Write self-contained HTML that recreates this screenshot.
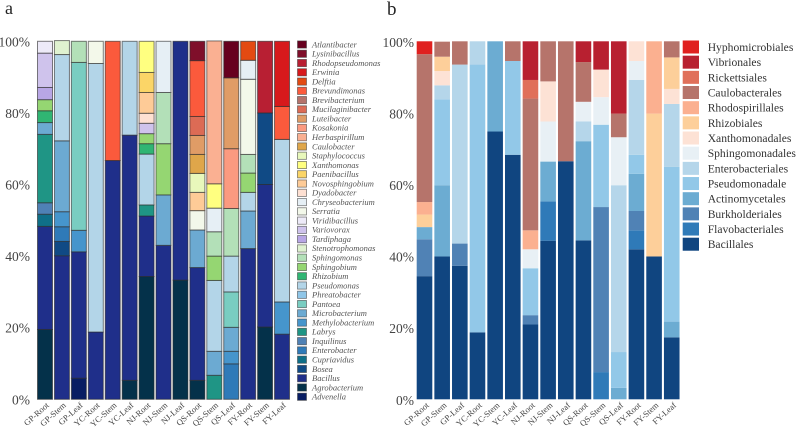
<!DOCTYPE html>
<html lang="en">
<head>
<meta charset="utf-8">
<title>Stacked bar charts of bacterial composition</title>
<style>
html,body{margin:0;padding:0;background:#fff;width:798px;height:431px;overflow:hidden}
svg{display:block;font-family:"Liberation Serif",serif}
</style>
</head>
<body>
<svg id="figure" width="798" height="431" viewBox="0 0 798 431" xmlns="http://www.w3.org/2000/svg">
  <text x="5" y="14" font-size="18" fill="#222">a</text>
  <text x="387" y="15" font-size="19" fill="#222">b</text>
  <g id="panel-a"></g>
  <g id="panel-b"></g>
</svg>
<script>
const samples = ['GP-Root','GP-Stem','GP-Leaf','YC-Root','YC-Stem','YC-Leaf','NJ-Root','NJ-Stem','NJ-Leaf','QS-Root','QS-Stem','QS-Leaf','FY-Root','FY-Stem','FY-Leaf'];
const yTicks = [0,20,40,60,80,100];

const genera = ['Atlantibacter','Lysinibacillus','Rhodopseudomonas','Erwinia','Delftia','Brevundimonas','Brevibacterium','Mucilaginibacter','Luteibacter','Kosakonia','Herbaspirillum','Caulobacter','Staphylococcus','Xanthomonas','Paenibacillus','Novosphingobium','Dyadobacter','Chryseobacterium','Serratia','Viridibacillus','Variovorax','Tardiphaga','Stenotrophomonas','Sphingomonas','Sphingobium','Rhizobium','Pseudomonas','Phreatobacter','Pantoea','Microbacterium','Methylobacterium','Labrys','Inquilinus','Enterobacter','Cupriavidus','Bosea','Bacillus','Agrobacterium','Advenella'];
const genusColors = ['#67001f','#7f0f2a','#b81f33','#d7191c','#e34a12','#fb5a3c','#b5736b','#dc6b55','#e09c66','#fb9a80','#fab092','#dfa64a','#e8f8bb','#ffff80','#fbd567','#fecb97','#fee0d2','#e6eff5','#f3f8ea','#edeaf8','#cfc3ec','#b8a6e5','#dff2d0','#b3e0b8','#95d672','#30b573','#b3d5e8','#8fc6e8','#79cdc1','#6caad2','#4695cc','#1f9585','#4f81b5','#2f7ab8','#0f6f88','#104a85','#1f2f8a','#04314a','#081d63'];

const gpRootA = {Agrobacterium:19.5,Bacillus:28.8,Cupriavidus:3.4,Inquilinus:3.2,Labrys:19.1,Microbacterium:3.3,Rhizobium:3.3,Sphingobium:3.1,Tardiphaga:3.4,Variovorax:9.6,Viridibacillus:3.3};
const gpStemA = {Bacillus:40.1,Bosea:4,Enterobacter:4.1,Methylobacterium:4.2,Microbacterium:19.8,Pseudomonas:24.1,Stenotrophomonas:3.9};
const gpLeafA = {Advenella:5.9,Bacillus:35.3,Methylobacterium:6,Pantoea:46.9,Sphingomonas:5.9};
const ycRootA = {Bacillus:18.8,Pseudomonas:75,Serratia:6.2};
const ycStemA = {Bacillus:66.7,Brevundimonas:33.3};
const ycLeafA = {Agrobacterium:5.3,Bacillus:68.5,Pseudomonas:26.2};
const njRootA = {Agrobacterium:34.3,Bacillus:16.9,Labrys:3.1,Pseudomonas:14.2,Rhizobium:2.9,Sphingobium:2.8,Variovorax:2.9,Dyadobacter:2.8,Novosphingobium:5.8,Paenibacillus:5.6,Xanthomonas:8.7};
const njStemA = {Bacillus:43,Microbacterium:14.1,Sphingobium:14.3,Sphingomonas:14.3,Chryseobacterium:14.3};
const njLeafA = {Agrobacterium:33.3,Bacillus:66.7};
const qsRootA = {Agrobacterium:5.3,Bacillus:31.5,Microbacterium:10.5,Serratia:5.4,Novosphingobium:5.1,Staphylococcus:5.3,Caulobacter:5.3,Luteibacter:5.3,Mucilaginibacter:5.3,Brevundimonas:15.6,Lysinibacillus:5.4};
const qsStemA = {Labrys:6.7,Microbacterium:6.7,Pseudomonas:19.8,Sphingobium:6.8,Sphingomonas:6.8,Chryseobacterium:6.6,Xanthomonas:6.8,Herbaspirillum:39.9};
const qsLeafA = {Enterobacter:9.9,Methylobacterium:3.5,Microbacterium:6.7,Pantoea:9.9,Pseudomonas:10,Sphingomonas:13.3,Kosakonia:16.7,Luteibacter:19.8,Atlantibacter:10.2};
const fyRootA = {Bacillus:42.1,Microbacterium:10.5,Pseudomonas:5.2,Sphingobium:5.4,Sphingomonas:5.2,Serratia:21,Chryseobacterium:5.3,Delftia:5.3};
const fyStemA = {Agrobacterium:20.2,Bacillus:39.8,Bosea:20,Rhodopseudomonas:20};
const fyLeafA = {Bacillus:18.2,Methylobacterium:9,Pseudomonas:45.4,Brevundimonas:9.2,Erwinia:18.2};
const barsA = [gpRootA,gpStemA,gpLeafA,ycRootA,ycStemA,ycLeafA,njRootA,njStemA,njLeafA,qsRootA,qsStemA,qsLeafA,fyRootA,fyStemA,fyLeafA];

const orders = ['Hyphomicrobiales','Vibrionales','Rickettsiales','Caulobacterales','Rhodospirillales','Rhizobiales','Xanthomonadales','Sphingomonadales','Enterobacteriales','Pseudomonadale','Actinomycetales','Burkholderiales','Flavobacteriales','Bacillales'];
const orderColors = ['#e0201f','#b82030','#e0705a','#b6746b','#fbb090','#fdcf9a','#fde2d5','#e8f0f5','#b5d6ea','#92c8e8','#6cacd2','#5082b5','#2f7ab8','#104580'];

const gpRootB = {Bacillales:34.4,Burkholderiales:10.3,Actinomycetales:3.4,Rhizobiales:3.5,Rhodospirillales:3.5,Caulobacterales:41.3,Hyphomicrobiales:3.6};
const gpStemB = {Bacillales:39.9,Actinomycetales:19.9,Pseudomonadale:24,Enterobacteriales:3.9,Xanthomonadales:4,Rhizobiales:4,Caulobacterales:4.2};
const gpLeafB = {Bacillales:37.3,Burkholderiales:6.2,Enterobacteriales:50,Caulobacterales:6.5};
const ycRootB = {Bacillales:18.7,Pseudomonadale:74.8,Enterobacteriales:6.5};
const ycStemB = {Bacillales:74.8,Actinomycetales:25.2};
const ycLeafB = {Bacillales:68.3,Pseudomonadale:26.2,Caulobacterales:5.5};
const njRootB = {Bacillales:20.9,Burkholderiales:2.6,Pseudomonadale:13.1,Sphingomonadales:5.3,Rhodospirillales:5.3,Caulobacterales:36.8,Rickettsiales:5.2,Vibrionales:10.8};
const njStemB = {Bacillales:44.3,Flavobacteriales:11,Actinomycetales:11.1,Sphingomonadales:11.2,Xanthomonadales:11.2,Caulobacterales:11.2};
const njLeafB = {Bacillales:66.5,Caulobacterales:33.5};
const qsRootB = {Bacillales:44.4,Actinomycetales:27.7,Enterobacteriales:5.5,Sphingomonadales:5.5,Caulobacterales:11.1,Vibrionales:5.8};
const qsStemB = {Flavobacteriales:7.6,Burkholderiales:46.1,Pseudomonadale:23,Sphingomonadales:7.7,Xanthomonadales:7.7,Vibrionales:7.9};
const qsLeafB = {Actinomycetales:3.2,Pseudomonadale:10,Enterobacteriales:46.6,Sphingomonadales:13.4,Caulobacterales:6.6,Vibrionales:20.2};
const fyRootB = {Bacillales:41.9,Flavobacteriales:5.3,Burkholderiales:5.4,Actinomycetales:10.4,Pseudomonadale:5.3,Enterobacteriales:20.9,Sphingomonadales:5.3,Xanthomonadales:5.5};
const fyStemB = {Bacillales:39.9,Rhizobiales:39.9,Rhodospirillales:20.2};
const fyLeafB = {Bacillales:17.3,Actinomycetales:4.4,Pseudomonadale:43.2,Enterobacteriales:17.6,Xanthomonadales:4.2,Rhizobiales:8.8,Caulobacterales:4.5};
const barsB = [gpRootB,gpStemB,gpLeafB,ycRootB,ycStemB,ycLeafB,njRootB,njStemB,njLeafB,qsRootB,qsStemB,qsLeafB,fyRootB,fyStemB,fyLeafB];

const NS = 'http://www.w3.org/2000/svg';
const TOP = 41.3, BOTTOM = 399.3;
function yScale(v){ return BOTTOM - (v / 100) * (BOTTOM - TOP); }
function svgEl(parent, tag, attrs, text){
  const el = document.createElementNS(NS, tag);
  for (const k in attrs) el.setAttribute(k, attrs[k]);
  if (text !== undefined) el.textContent = text;
  parent.appendChild(el);
  return el;
}
function slug(s){ return s.toLowerCase().replace(/[^a-z0-9]+/g, '-'); }

function drawBars(group, bars, names, colors, x0, pitch, width, strokeColor, strokeWidth, suffix){
  bars.forEach(function(bar, i){
    const x = x0 + i * pitch;
    let cum = 0;
    for (let k = names.length - 1; k >= 0; k--){
      const v = bar[names[k]];
      if (!v) continue;
      const rect = svgEl(group, 'rect', {
        x: x, y: yScale(cum + v), width: width,
        height: yScale(cum) - yScale(cum + v),
        fill: colors[k], stroke: strokeColor, 'stroke-width': strokeWidth
      });
      
      
      cum += v;
    }
  });
}
function drawYAxis(group, right, baselineShift, suffix){
  yTicks.forEach(function(t){
    const label = svgEl(group, 'text', {
      x: right, y: yScale(t) + baselineShift, 'text-anchor': 'end', 'font-size': 13.5, fill: '#444'
    }, t + '%');
    
    
  });
}
function drawXAxis(group, x0, pitch, yPos, suffix){
  samples.forEach(function(s, i){
    const px = x0 + i * pitch, py = yPos;
    const label = svgEl(group, 'text', {
      x: px, y: py, 'text-anchor': 'end', 'font-size': 8.5, fill: '#444',
      transform: 'rotate(-42 ' + px + ' ' + py + ')'
    }, s);
    
    
  });
}

const panelA = document.getElementById('panel-a');
const panelB = document.getElementById('panel-b');

drawBars(panelA, barsA, genera, genusColors, 37.5, 16.93, 15, 'rgba(45,45,45,0.62)', 1, '-a');
drawYAxis(panelA, 30, 5, '-a');
drawXAxis(panelA, 49.5, 16.93, 406, '-a');

genera.forEach(function(name, i){
  const cy = 44.5 + i * 9.27;
  const swatch = svgEl(panelA, 'rect', {
    x: 297.5, y: cy - 3.6, width: 9, height: 7.2,
    fill: genusColors[i], stroke: 'rgba(60,60,60,0.65)', 'stroke-width': 0.8
  });
  
  
  const label = svgEl(panelA, 'text', {
    x: 312, y: cy + 2.8, 'font-size': 8.5, 'font-style': 'italic', fill: '#555'
  }, name);
  
  
});

drawBars(panelB, barsB, orders, orderColors, 416.7, 17.66, 15.6, 'none', 0, '-b');
drawYAxis(panelB, 414, 5.5, '-b');
drawXAxis(panelB, 429.5, 17.66, 406, '-b');

orders.forEach(function(name, i){
  const cy = 47 + i * 15.17;
  const swatch = svgEl(panelB, 'rect', {
    x: 682.7, y: cy - 6.5, width: 16.3, height: 13, fill: orderColors[i]
  });
  
  
  const label = svgEl(panelB, 'text', {
    x: 707.7, y: cy + 4, 'font-size': 11.6, fill: '#333'
  }, name);
  
  
});
</script>
</body>
</html>
